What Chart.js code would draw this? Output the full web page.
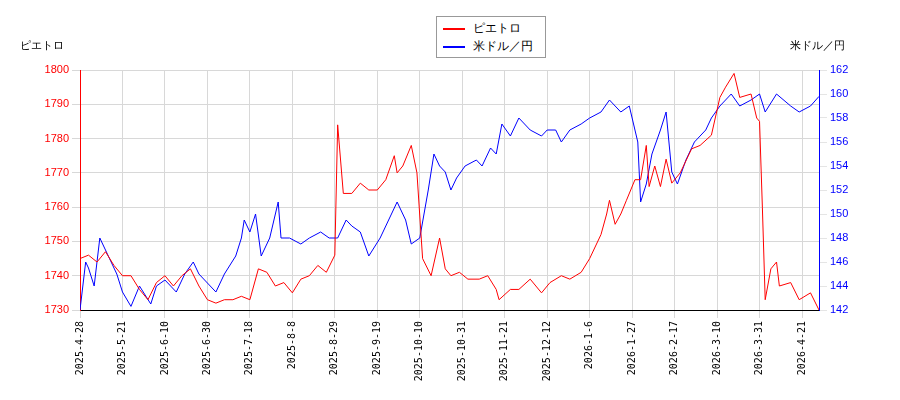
<!DOCTYPE html>
<html>
<head>
<meta charset="utf-8">
<script src="https://cdn.jsdelivr.net/npm/chart.js@4"></script>
<style>
  body { margin: 0; background: #fff; font-family: "DejaVu Sans", sans-serif; }
  #wrap { position: relative; width: 900px; height: 400px; }
  #legend { position: absolute; left: 436px; top: 16px; width: 102px; border: 1px solid #999; background: #fff; font-size: 12px; padding: 2px 0 2px 6px; }
  #legend div { height: 18px; line-height: 18px; }
  #legend span { display: inline-block; width: 22px; height: 2px; vertical-align: middle; margin-right: 8px; }
  .ttl { position: absolute; top: 38px; font-size: 11px; }
</style>
</head>
<body>
<div id="wrap">
  <canvas id="myChart" width="900" height="400"></canvas>
  <div id="legend">
    <div><span style="background:red"></span>ピエトロ</div>
    <div><span style="background:blue"></span>米ドル／円</div>
  </div>
  <div class="ttl" style="left:20px">ピエトロ</div>
  <div class="ttl" style="left:790px">米ドル／円</div>
</div>
<script>
'use strict';

const tickLabels = ['2025-4-28','2025-5-21','2025-6-10','2025-6-30','2025-7-18','2025-8-8','2025-8-29','2025-9-19','2025-10-10','2025-10-31','2025-11-21','2025-12-12','2026-1-6','2026-1-27','2026-2-17','2026-3-10','2026-3-31','2026-4-21'];

// trading-day index and value
const priceDays = [0,3,6,9,12,15,18,21,24,27,30,33,36,39,42,45,48,51,54,57,60,63,66,69,72,75,78,81,84,87,90,91,93,96,99,102,105,108,111,112,114,117,119,121,124,127,129,131,134,137,141,144,147,148,152,155,159,163,166,170,173,177,180,184,186,187,189,191,193,196,198,200,201,203,205,207,209,212,216,219,223,226,228,231,233,237,239,240,241,242,244,246,247,251,254,258,261];
const priceValues = [1745,1746,1744,1747,1743,1740,1740,1736,1733,1738,1740,1737,1740,1742,1737,1733,1732,1733,1733,1734,1733,1742,1741,1737,1738,1735,1739,1740,1743,1741,1746,1784,1764,1764,1767,1765,1765,1768,1775,1770,1772,1778,1770,1745,1740,1751,1742,1740,1741,1739,1739,1740,1736,1733,1736,1736,1739,1735,1738,1740,1739,1741,1745,1752,1758,1762,1755,1758,1762,1768,1768,1778,1766,1772,1766,1774,1767,1770,1777,1778,1781,1792,1795,1799,1792,1793,1786,1785,1760,1733,1742,1744,1737,1738,1733,1735,1730];

const fxDays = [0,2,3,5,7,11,13,15,18,21,25,27,30,34,37,40,42,46,48,51,55,57,58,60,62,64,67,70,71,74,78,81,85,88,91,94,96,99,102,106,110,112,115,117,120,123,125,127,129,131,133,136,140,142,145,147,149,152,155,159,163,165,168,170,173,177,180,184,187,189,191,194,197,198,200,202,205,207,209,211,214,217,221,223,226,230,233,237,240,242,246,251,254,258,261];
const fxValues = [142,146,145.5,144,148,146,145,143.5,142.3,144,142.5,144,144.5,143.5,145,146,145,144,143.5,145,146.5,148,149.5,148.5,150,146.5,148,151,148,148,147.5,148,148.5,148,148,149.5,149,148.5,146.5,148,150,151,149.5,147.5,148,152,155,154,153.5,152,153,154,154.5,154,155.5,155,157.5,156.5,158,157,156.5,157,157,156,157,157.5,158,158.5,159.5,159,158.5,159,156,151,152.5,155,157,158.5,153.5,152.5,154.5,156,157,158,159,160,159,159.5,160,158.5,160,159,158.5,159,159.8];

const toPoints = (d, v) => d.map((x, i) => ({x: x, y: v[i]}));
const tickFont = {family: 'DejaVu Sans Mono, monospace', size: 10};

new Chart(document.getElementById('myChart'), {
  type: 'line',
  data: {
    datasets: [{
      data: toPoints(priceDays, priceValues),
      borderColor: 'red', borderWidth: 1, pointRadius: 0, yAxisID: 'y',
    }, {
      data: toPoints(fxDays, fxValues),
      borderColor: 'blue', borderWidth: 1, pointRadius: 0, yAxisID: 'y1',
    }]
  },
  options: {
    responsive: false,
    animation: false,
    layout: {padding: {top: 70, left: 0, right: 0, bottom: 0}},
    plugins: {legend: {display: false}, tooltip: {enabled: false}},
    scales: {
      x: {
        type: 'linear', min: 0, max: 261,
        afterBuildTicks: axis => { axis.ticks = tickLabels.map((t, i) => ({value: i * 15})); },
        ticks: {autoSkip: false, maxRotation: 90, minRotation: 90, font: tickFont, color: '#000',
          callback: (v) => tickLabels[v / 15]},
        grid: {color: '#d8d8d8'},
        border: {color: '#000'},
        afterFit: a => { a.height = 90; },
      },
      y: {
        position: 'left', min: 1730, max: 1800,
        ticks: {stepSize: 10, color: 'red', font: {size: 11}, callback: v => String(v)},
        grid: {color: '#d8d8d8'},
        border: {color: 'red'},
        afterFit: a => { a.width = 80; },
      },
      y1: {
        position: 'right', min: 142, max: 162,
        ticks: {stepSize: 2, color: 'blue', font: {size: 11}},
        grid: {drawOnChartArea: false},
        border: {color: 'blue'},
        afterFit: a => { a.width = 81; },
      }
    }
  }
});
</script>
</body>
</html>
